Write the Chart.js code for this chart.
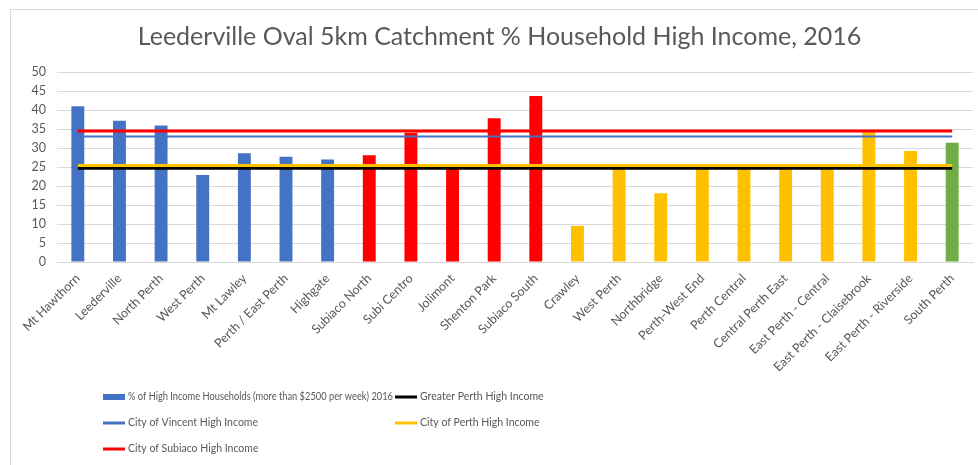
<!DOCTYPE html>
<html>
<head>
<meta charset="utf-8">
<script src="https://cdn.jsdelivr.net/npm/chart.js@4"></script>
<style>
  html, body { margin: 0; padding: 0; background: #ffffff; }
  #wrap { position: relative; width: 978px; height: 465px; }
</style>
</head>
<body>
<div id="wrap"><canvas id="chart"></canvas></div>
<script>
// Suburbs within the 5km catchment of Leederville Oval
const suburbs = [
  'Mt Hawthorn', 'Leederville', 'North Perth', 'West Perth', 'Mt Lawley',
  'Perth / East Perth', 'Highgate', 'Subiaco North', 'Subi Centro', 'Jolimont',
  'Shenton Park', 'Subiaco South', 'Crawley', 'West Perth', 'Northbridge',
  'Perth-West End', 'Perth Central', 'Central Perth East', 'East Perth - Central',
  'East Perth - Claisebrook', 'East Perth - Riverside', 'South Perth'
];

// Local government area each suburb belongs to
const suburbCouncil = [
  'Vincent', 'Vincent', 'Vincent', 'Vincent', 'Vincent', 'Vincent', 'Vincent',
  'Subiaco', 'Subiaco', 'Subiaco', 'Subiaco', 'Subiaco',
  'Perth', 'Perth', 'Perth', 'Perth', 'Perth', 'Perth', 'Perth', 'Perth', 'Perth',
  'South Perth'
];

// % of households earning more than $2500 per week, 2016
const highIncomePct = [
  41.0, 37.2, 35.9, 22.9, 28.6, 27.7, 27.0,
  28.1, 34.0, 25.0, 37.8, 43.7,
  9.5, 25.0, 18.1, 25.0, 25.0, 24.6, 25.0, 34.5, 29.2,
  31.4
];

// Benchmark high income shares
const greaterPerthHighIncome = 24.7;
const cityOfVincentHighIncome = 33.0;
const cityOfPerthHighIncome = 25.4;
const cityOfSubiacoHighIncome = 34.5;

const yTicks = [0, 5, 10, 15, 20, 25, 30, 35, 40, 45, 50];

const councilColour = {
  'Vincent': '#4472C4',
  'Subiaco': '#FF0000',
  'Perth': '#FFC000',
  'South Perth': '#70AD47'
};

const FONT = 'Lato, "Open Sans", sans-serif';
const GREY_TEXT = '#595959';

// A benchmark drawn as a flat line from the first suburb to the last
function benchmark(value) {
  return [
    { x: suburbs[0], y: value },
    { x: suburbs[suburbs.length - 1], y: value }
  ];
}

const legendEntries = [
  { text: '% of High Income Households (more than $2500 per week) 2016', colour: '#4472C4', kind: 'bar' },
  { text: 'Greater Perth High Income', colour: '#000000', kind: 'line' },
  { text: 'City of Vincent High Income', colour: '#4472C4', kind: 'line' },
  { text: 'City of Perth High Income', colour: '#FFC000', kind: 'line' },
  { text: 'City of Subiaco High Income', colour: '#FF0000', kind: 'line' }
];

// Outer frame of the chart object
const framePlugin = {
  id: 'frame',
  beforeDraw(chart) {
    const ctx = chart.ctx;
    ctx.save();
    ctx.strokeStyle = '#d9d9d9';
    ctx.lineWidth = 1;
    ctx.strokeRect(10.5, 9.5, chart.width + 20, chart.height + 20);
    ctx.restore();
  }
};

// Two-column legend laid out under the axis labels
const gridLegendPlugin = {
  id: 'gridLegend',
  afterDraw(chart) {
    const ctx = chart.ctx;
    const colX = [103, 395];
    const rowY = [397, 423, 449];
    ctx.save();
    ctx.font = '10.5px ' + FONT;
    ctx.textBaseline = 'middle';
    legendEntries.forEach((item, i) => {
      const col = i % 2;
      const x = colX[col];
      const y = rowY[Math.floor(i / 2)];
      if (item.kind === 'bar') {
        ctx.fillStyle = item.colour;
        ctx.fillRect(x, y - 3, 22, 6);
      } else {
        ctx.strokeStyle = item.colour;
        ctx.lineWidth = 3;
        ctx.beginPath();
        ctx.moveTo(x, y);
        ctx.lineTo(x + 22, y);
        ctx.stroke();
      }
      ctx.fillStyle = GREY_TEXT;
      if (col === 0) {
        // keep the long first entry clear of the second column
        ctx.fillText(item.text, x + 25, y, colX[1] - x - 27);
      } else {
        ctx.fillText(item.text, x + 25, y);
      }
    });
    ctx.restore();
  }
};

const lineBase = { type: 'line', pointRadius: 0, pointHoverRadius: 0, fill: false, borderCapStyle: 'butt' };

new Chart(document.getElementById('chart'), {
  data: {
    labels: suburbs,
    datasets: [
      {
        type: 'bar',
        label: legendEntries[0].text,
        data: highIncomePct,
        backgroundColor: suburbCouncil.map(c => councilColour[c]),
        barPercentage: 0.31,
        categoryPercentage: 1.0,
        order: 10
      },
      Object.assign({}, lineBase, {
        label: 'Greater Perth High Income',
        data: benchmark(greaterPerthHighIncome),
        borderColor: '#000000', borderWidth: 3, order: 4
      }),
      Object.assign({}, lineBase, {
        label: 'City of Vincent High Income',
        data: benchmark(cityOfVincentHighIncome),
        borderColor: '#4472C4', borderWidth: 2, order: 3
      }),
      Object.assign({}, lineBase, {
        label: 'City of Perth High Income',
        data: benchmark(cityOfPerthHighIncome),
        borderColor: '#FFC000', borderWidth: 3, order: 2
      }),
      Object.assign({}, lineBase, {
        label: 'City of Subiaco High Income',
        data: benchmark(cityOfSubiacoHighIncome),
        borderColor: '#FF0000', borderWidth: 3, order: 1
      })
    ]
  },
  options: {
    responsive: true,
    maintainAspectRatio: false,
    animation: false,
    layout: { padding: { left: 26, right: 5, top: 0, bottom: 0 } },
    plugins: {
      legend: { display: false },
      tooltip: { enabled: false },
      title: {
        display: true,
        text: 'Leederville Oval 5km Catchment % Household High Income, 2016',
        color: GREY_TEXT,
        font: { family: FONT, size: 25, weight: 'normal' },
        padding: { top: 22, bottom: 20 }
      }
    },
    scales: {
      x: {
        offset: true,
        grid: { display: false, drawTicks: false },
        border: { display: true, color: '#d9d9d9' },
        ticks: {
          autoSkip: false,
          maxRotation: 45,
          minRotation: 45,
          padding: 9,
          color: GREY_TEXT,
          font: { family: FONT, size: 12.5 }
        },
        afterFit(scale) { scale.height = 203; }
      },
      y: {
        min: 0,
        max: 50,
        afterBuildTicks(scale) { scale.ticks = yTicks.map(v => ({ value: v })); },
        grid: { color: '#d9d9d9', drawTicks: false },
        border: { display: false },
        ticks: {
          padding: 11,
          color: GREY_TEXT,
          font: { family: FONT, size: 12.5 }
        },
        afterFit(scale) { scale.width = 31; }
      }
    }
  },
  plugins: [framePlugin, gridLegendPlugin]
});
</script>
</body>
</html>
